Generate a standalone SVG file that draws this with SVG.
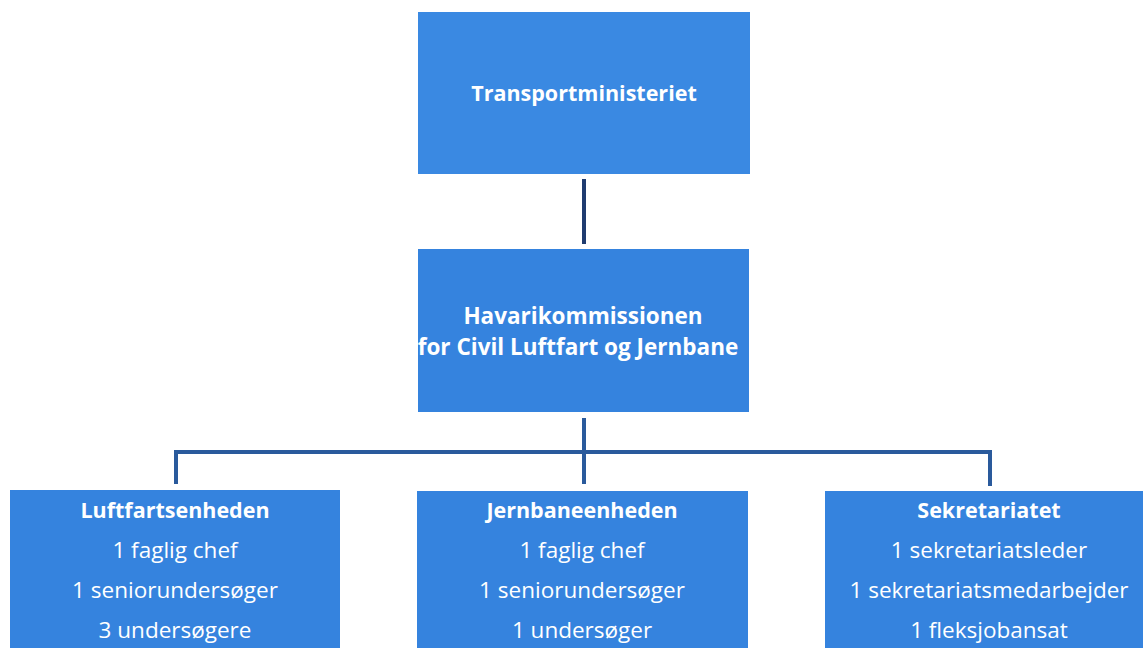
<svg xmlns="http://www.w3.org/2000/svg" width="1143" height="648" viewBox="0 0 1143 648">
<style>
.box{fill:#3583de;}
.t{font-family:"Open Sans","Liberation Sans",sans-serif;fill:#ffffff;text-anchor:middle;}
.b{font-weight:bold;font-size:21.5px;}
.m{font-weight:bold;font-size:22.5px;}
.r{font-size:22.5px;}
.c{stroke:#2a5a9c;stroke-width:4;fill:none;}
</style>
<rect width="1143" height="648" fill="#ffffff"/>
<g id="connectors">
<line class="c" x1="584" y1="179" x2="584" y2="244" style="stroke:#1f3c70"/>
<line class="c" x1="584" y1="418" x2="584" y2="484"/>
<polyline class="c" points="176,484 176,452 990,452 990,486"/>
</g>
<g id="transportministeriet">
<rect class="box" x="418" y="12" width="332" height="162" style="fill:#3a89e2"/>
<text class="t b" x="584" y="101">Transportministeriet</text>
</g>
<g id="havarikommissionen">
<rect class="box" x="418" y="249" width="331" height="163"/>
<text class="t m" x="583" y="324">Havarikommissionen</text>
<text class="t m" x="578" y="355">for Civil Luftfart og Jernbane</text>
</g>
<g id="luftfartsenheden">
<rect class="box" x="10" y="490" width="330" height="158"/>
<text class="t b" x="175" y="518">Luftfartsenheden</text>
<text class="t r" x="175" y="558">1 faglig chef</text>
<text class="t r" x="175" y="598">1 seniorundersøger</text>
<text class="t r" x="175" y="638">3 undersøgere</text>
</g>
<g id="jernbaneenheden">
<rect class="box" x="417" y="491" width="331" height="157"/>
<text class="t b" x="582" y="518">Jernbaneenheden</text>
<text class="t r" x="582" y="558">1 faglig chef</text>
<text class="t r" x="582" y="598">1 seniorundersøger</text>
<text class="t r" x="582" y="638">1 undersøger</text>
</g>
<g id="sekretariatet">
<rect class="box" x="825" y="491" width="318" height="157"/>
<text class="t b" x="989" y="518">Sekretariatet</text>
<text class="t r" x="989" y="558">1 sekretariatsleder</text>
<text class="t r" x="989" y="598">1 sekretariatsmedarbejder</text>
<text class="t r" x="989" y="638">1 fleksjobansat</text>
</g>
</svg>
